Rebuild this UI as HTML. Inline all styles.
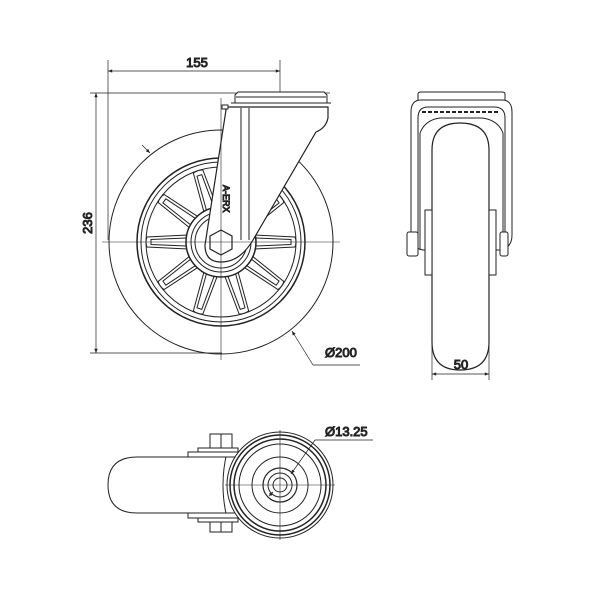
<!DOCTYPE html>
<html><head><meta charset="utf-8"><style>body{margin:0;background:#fff}svg{display:block}text{font-family:"Liberation Sans",sans-serif;fill:#333;font-weight:normal}</style></head><body>
<svg width="600" height="600" viewBox="0 0 600 600" xmlns="http://www.w3.org/2000/svg" fill="none" stroke="#222" stroke-width="1">
<defs><marker id="a" viewBox="0 0 10 10" refX="10" refY="5" markerWidth="8" markerHeight="6" orient="auto-start-reverse"><path d="M0,1 L10,5 L0,9" fill="#222" stroke="none"/></marker>
<path id="sp" d="M188,235 L147,237 Q145,242 147,247 L188,249 M186,238 L151,239.5 L151,244.5 L186,246"/></defs>
<!-- dimensions front -->
<g stroke-width="0.7">
<line x1="108" y1="60" x2="108" y2="240"/><line x1="280" y1="60" x2="280" y2="100"/>
<line x1="108" y1="71" x2="280" y2="71" marker-start="url(#a)" marker-end="url(#a)"/>
<line x1="90" y1="93" x2="330" y2="93"/><line x1="90" y1="353" x2="222" y2="353"/>
<line x1="96" y1="93" x2="96" y2="353" marker-start="url(#a)" marker-end="url(#a)"/>
<line x1="142" y1="145" x2="150" y2="153" marker-end="url(#a)"/>
<line x1="360" y1="365" x2="313" y2="365"/><line x1="313" y1="365" x2="292" y2="331" marker-end="url(#a)"/>
</g>
<text x="197" y="67" font-size="13" text-anchor="middle">155</text>
<text x="92" y="223" font-size="13" text-anchor="middle" transform="rotate(-90 92 223)">236</text>
<text x="325" y="357" font-size="13">Ø200</text>
<!-- wheel front -->
<circle cx="221" cy="242" r="112"/>
<circle cx="221" cy="242" r="84" stroke-width="1.5"/>
<circle cx="221" cy="242" r="80"/>
<circle cx="221" cy="242" r="75"/>
<g stroke-width="1">
<use href="#sp"/>
<use href="#sp" transform="rotate(36 221 242)"/>
<use href="#sp" transform="rotate(72 221 242)"/>
<use href="#sp" transform="rotate(108 221 242)"/>
<use href="#sp" transform="rotate(144 221 242)"/>
<use href="#sp" transform="rotate(180 221 242)"/>
<use href="#sp" transform="rotate(216 221 242)"/>
<use href="#sp" transform="rotate(252 221 242)"/>
<use href="#sp" transform="rotate(288 221 242)"/>
<use href="#sp" transform="rotate(324 221 242)"/>
</g>
<circle cx="221" cy="242" r="35" stroke-width="1.5" fill="#fff"/>
<circle cx="221" cy="242" r="30"/>
<circle cx="221" cy="242" r="26"/>
<!-- bracket front -->
<path d="M224,107 L328,107 L328,118 Q326,128 316,132 L253,240 Q240,262 221,262 Q205,262 205,245 L226,110 Z" fill="#fff" stroke-width="1.2"/>
<line x1="241" y1="108" x2="241" y2="240"/><line x1="249" y1="108" x2="249" y2="240"/>
<path d="M235,103 L235,95 L238,92 L324,92 L327,95 L327,103 Z" fill="#fff"/>
<line x1="236" y1="97" x2="326" y2="97"/>
<line x1="231" y1="103" x2="331" y2="103"/>
<rect x="222" y="105" width="6" height="4" fill="#fff"/>
<polygon points="221,230 232,236 232,249 221,255 210,249 210,236" fill="#fff" stroke-width="1.2"/>
<text x="223" y="185" font-size="9" transform="rotate(90 223 185)">A-ERX</text>
<g stroke-width="0.6"><line x1="221" y1="98" x2="221" y2="360"/><line x1="102" y1="242" x2="340" y2="242"/></g>
<!-- side view -->
<path d="M418,100 L418,94 Q418,92 421,92 L502,92 Q505,92 505,94 L505,100"/>
<path d="M411,112 Q411,100 421,100 L502,100 Q512,100 512,112 L512,235 Q512,248 500,250 L423,250 Q411,248 411,235 Z"/>
<path d="M418,250 L418,118 Q418,107 428,107 L494,107 Q505,107 505,118 L505,250"/>
<line x1="422" y1="112" x2="500" y2="112" stroke-dasharray="4 2" stroke-width="2"/>
<path d="M420,250 L420,133 Q425,120 440,118 L482,118 Q498,120 503,133 L503,250"/>
<path d="M432,150 Q432,123 460,123 Q489,123 489,150 L489,342 Q489,370 460,370 Q432,370 432,342 Z" fill="#fff" stroke-width="1.2"/>
<rect x="425" y="210" width="7" height="65" fill="#fff"/><rect x="489" y="210" width="7" height="65" fill="#fff"/>
<rect x="407" y="232" width="11" height="24" rx="2" fill="#fff"/><rect x="500" y="232" width="8" height="24" rx="2" fill="#fff"/>
<g stroke-width="0.7"><line x1="432" y1="345" x2="432" y2="380"/><line x1="489" y1="345" x2="489" y2="380"/>
<line x1="432" y1="374" x2="489" y2="374" marker-start="url(#a)" marker-end="url(#a)"/></g>
<text x="461" y="369" font-size="13" text-anchor="middle">50</text>
<!-- bottom view -->
<path d="M240,457 L137,457 Q108,457 108,485 Q108,513 137,513 L240,513"/>
<path d="M227,452 Q219,485 227,518"/>
<rect x="188" y="452" width="50" height="5" fill="#fff"/><rect x="198" y="448" width="40" height="4" fill="#fff"/>
<rect x="188" y="513" width="50" height="5" fill="#fff"/><rect x="198" y="518" width="40" height="4" fill="#fff"/>
<rect x="210" y="434" width="22" height="14" fill="#fff"/><rect x="210" y="522" width="22" height="10" fill="#fff"/>
<line x1="221" y1="434" x2="221" y2="448"/><line x1="221" y1="522" x2="221" y2="532"/>
<circle cx="280" cy="485" r="53" fill="#fff"/>
<circle cx="280" cy="485" r="50" stroke-width="1.5"/>
<circle cx="280" cy="485" r="46" stroke-width="1.5"/>
<circle cx="280" cy="485" r="41"/>
<circle cx="280" cy="485" r="28"/>
<circle cx="280" cy="485" r="17" stroke-width="1.2"/>
<circle cx="280" cy="485" r="12"/>
<circle cx="280" cy="485" r="7"/>
<g stroke-width="0.6"><line x1="280" y1="430" x2="280" y2="540"/><line x1="225" y1="485" x2="335" y2="485"/></g>
<g stroke-width="0.7"><line x1="315" y1="440" x2="373" y2="440"/><line x1="315" y1="440" x2="291" y2="474" marker-end="url(#a)"/><line x1="269" y1="496" x2="273" y2="492" marker-end="url(#a)"/></g>
<text x="325" y="436" font-size="13">Ø13.25</text>
</svg>
</body></html>
